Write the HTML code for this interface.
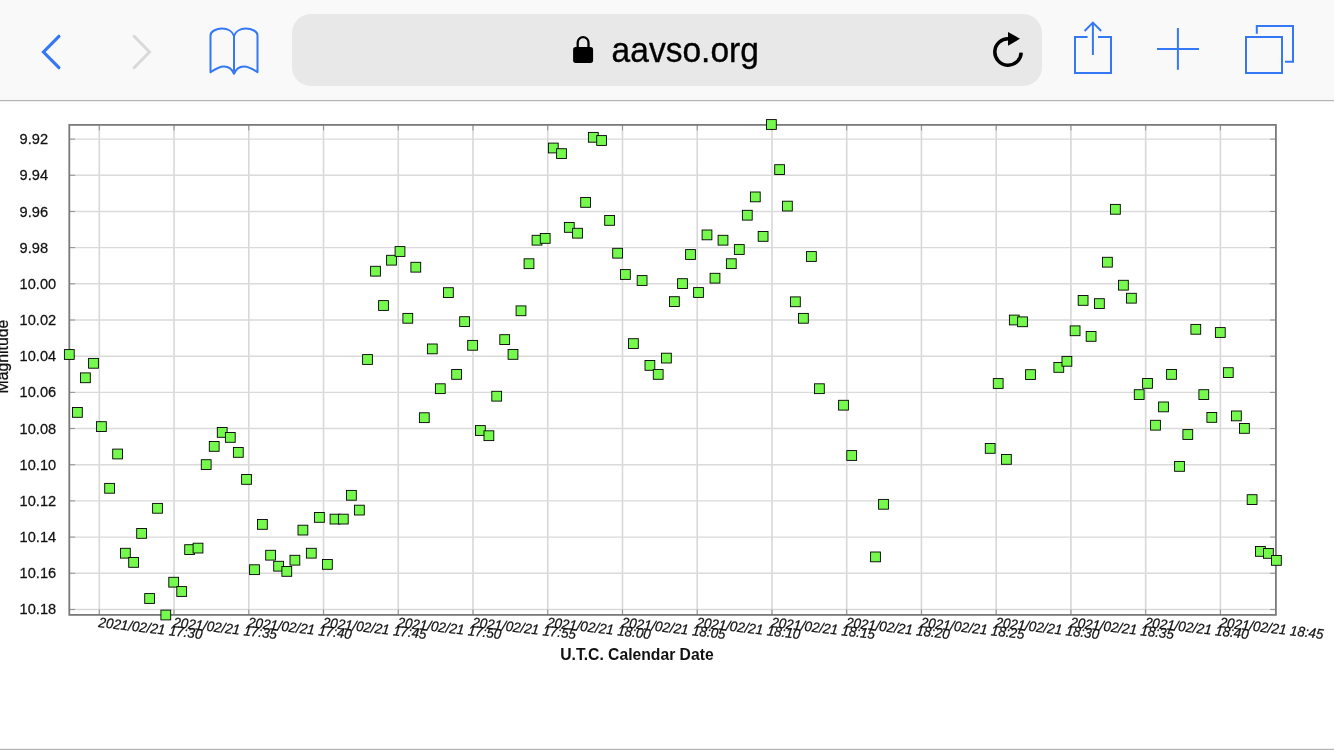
<!DOCTYPE html>
<html lang="en"><head><meta charset="utf-8"><title>aavso.org</title>
<style>
html,body{margin:0;padding:0;background:#fff;}
body{width:1334px;height:750px;overflow:hidden;font-family:"Liberation Sans",sans-serif;}
svg{display:block;}
text{font-family:"Liberation Sans",sans-serif;fill:#111;}
.yt{font-size:15.2px;stroke:#111;stroke-width:0.25px;}
.xt{font-size:14.1px;font-style:italic;stroke:#111;stroke-width:0.25px;}
.ax{font-size:15.7px;font-weight:bold;}
.ay{font-size:15.8px;stroke:#111;stroke-width:0.3px;}
</style></head><body>
<svg width="1334" height="750" viewBox="0 0 1334 750">
<rect x="0" y="0" width="1334" height="100" fill="#f9f9f9"/>
<rect x="0" y="100" width="1334" height="1.2" fill="#b4b4b4"/>
<rect x="0" y="748.8" width="1334" height="1.2" fill="#b4b4b4"/>
<path d="M58.9 36.3 L43.5 52 L58.9 67.7" fill="none" stroke="#3478f6" stroke-width="3.2" stroke-linecap="round" stroke-linejoin="miter"/>
<path d="M134.1 36.3 L149.5 52 L134.1 67.7" fill="none" stroke="#d9d9d9" stroke-width="3" stroke-linecap="round" stroke-linejoin="miter"/>
<g fill="none" stroke="#3478f6" stroke-width="2" stroke-linejoin="round" stroke-linecap="round">
<path d="M234 73.8 V36 C232.6 31.2 227.6 28.6 222 28.6 C216.4 28.6 210.5 31.4 210.5 35.4 V72.2 C215.4 68.8 220 66.4 224 66.4 C229 66.4 232.4 69.6 234 73.8 C235.6 69.6 239 66.4 244 66.4 C248 66.4 252.6 68.8 257.5 72.2 V35.4 C257.5 31.4 251.6 28.6 246 28.6 C240.4 28.6 235.4 31.2 234 36"/>
</g>
<rect x="292" y="14" width="750" height="72" rx="19" ry="19" fill="#e8e8e9"/>
<rect x="573.1" y="47.1" width="20" height="15.8" rx="2.6" fill="#000"/>
<path d="M577.7 48 V42.6 A5.4 5.4 0 0 1 588.5 42.6 V48" fill="none" stroke="#000" stroke-width="2.3"/>
<text x="611.6" y="62.2" style="font-size:34.3px;fill:#000;stroke:#000;stroke-width:0.35px" textLength="147.3" lengthAdjust="spacingAndGlyphs">aavso.org</text>
<path d="M1021.2 52.6 A13.2 13.2 0 1 1 1008.6 38.8" fill="none" stroke="#000" stroke-width="3.5"/>
<path d="M1008 32 L1020 38.7 L1008 45.8 Z" fill="#000"/>
<g fill="none" stroke="#3478f6" stroke-width="2">
<path d="M1087.6 37 H1075 V73 H1111 V37 H1098"/>
<path d="M1092.9 55 V22.9"/>
<path d="M1084.6 31 L1092.9 22.6 L1101.2 31"/>
<path d="M1157 49 H1199"/><path d="M1177.9 28 V69.8"/>
<rect x="1246" y="37" width="36" height="36"/>
<path d="M1256.8 33.8 V26 H1293 V61.8 H1285"/>
</g>
<g stroke="#d8d8d8" stroke-width="1.6" fill="none">
<path d="M99.30 124.9 V614.9"/>
<path d="M174.04 124.9 V614.9"/>
<path d="M248.78 124.9 V614.9"/>
<path d="M323.52 124.9 V614.9"/>
<path d="M398.26 124.9 V614.9"/>
<path d="M473.00 124.9 V614.9"/>
<path d="M547.74 124.9 V614.9"/>
<path d="M622.48 124.9 V614.9"/>
<path d="M697.22 124.9 V614.9"/>
<path d="M771.96 124.9 V614.9"/>
<path d="M846.70 124.9 V614.9"/>
<path d="M921.44 124.9 V614.9"/>
<path d="M996.18 124.9 V614.9"/>
<path d="M1070.92 124.9 V614.9"/>
<path d="M1145.66 124.9 V614.9"/>
<path d="M1220.40 124.9 V614.9"/>
</g>
<g stroke="#dadada" stroke-width="1.4" fill="none">
<path d="M69.3 139.10 H1275.9"/>
<path d="M69.3 175.28 H1275.9"/>
<path d="M69.3 211.46 H1275.9"/>
<path d="M69.3 247.64 H1275.9"/>
<path d="M69.3 283.82 H1275.9"/>
<path d="M69.3 320.00 H1275.9"/>
<path d="M69.3 356.18 H1275.9"/>
<path d="M69.3 392.36 H1275.9"/>
<path d="M69.3 428.54 H1275.9"/>
<path d="M69.3 464.72 H1275.9"/>
<path d="M69.3 500.90 H1275.9"/>
<path d="M69.3 537.08 H1275.9"/>
<path d="M69.3 573.26 H1275.9"/>
<path d="M69.3 609.44 H1275.9"/>
</g>
<g stroke="#8a8a8a" stroke-width="0.9" fill="none">
<path d="M99.30 124.9 v5.5 M99.30 614.9 v-5.5"/>
<path d="M174.04 124.9 v5.5 M174.04 614.9 v-5.5"/>
<path d="M248.78 124.9 v5.5 M248.78 614.9 v-5.5"/>
<path d="M323.52 124.9 v5.5 M323.52 614.9 v-5.5"/>
<path d="M398.26 124.9 v5.5 M398.26 614.9 v-5.5"/>
<path d="M473.00 124.9 v5.5 M473.00 614.9 v-5.5"/>
<path d="M547.74 124.9 v5.5 M547.74 614.9 v-5.5"/>
<path d="M622.48 124.9 v5.5 M622.48 614.9 v-5.5"/>
<path d="M697.22 124.9 v5.5 M697.22 614.9 v-5.5"/>
<path d="M771.96 124.9 v5.5 M771.96 614.9 v-5.5"/>
<path d="M846.70 124.9 v5.5 M846.70 614.9 v-5.5"/>
<path d="M921.44 124.9 v5.5 M921.44 614.9 v-5.5"/>
<path d="M996.18 124.9 v5.5 M996.18 614.9 v-5.5"/>
<path d="M1070.92 124.9 v5.5 M1070.92 614.9 v-5.5"/>
<path d="M1145.66 124.9 v5.5 M1145.66 614.9 v-5.5"/>
<path d="M1220.40 124.9 v5.5 M1220.40 614.9 v-5.5"/>
<path d="M69.3 139.10 h5.8 M1275.9 139.10 h-5.8"/>
<path d="M69.3 175.28 h5.8 M1275.9 175.28 h-5.8"/>
<path d="M69.3 211.46 h5.8 M1275.9 211.46 h-5.8"/>
<path d="M69.3 247.64 h5.8 M1275.9 247.64 h-5.8"/>
<path d="M69.3 283.82 h5.8 M1275.9 283.82 h-5.8"/>
<path d="M69.3 320.00 h5.8 M1275.9 320.00 h-5.8"/>
<path d="M69.3 356.18 h5.8 M1275.9 356.18 h-5.8"/>
<path d="M69.3 392.36 h5.8 M1275.9 392.36 h-5.8"/>
<path d="M69.3 428.54 h5.8 M1275.9 428.54 h-5.8"/>
<path d="M69.3 464.72 h5.8 M1275.9 464.72 h-5.8"/>
<path d="M69.3 500.90 h5.8 M1275.9 500.90 h-5.8"/>
<path d="M69.3 537.08 h5.8 M1275.9 537.08 h-5.8"/>
<path d="M69.3 573.26 h5.8 M1275.9 573.26 h-5.8"/>
<path d="M69.3 609.44 h5.8 M1275.9 609.44 h-5.8"/>
</g>
<rect x="69.3" y="124.9" width="1206.6" height="490.0" fill="none" stroke="#7a7a7a" stroke-width="1.8"/>
<text class="yt" transform="translate(19.6 144.1) scale(0.962 1)">9.92</text>
<text class="yt" transform="translate(19.6 180.3) scale(0.962 1)">9.94</text>
<text class="yt" transform="translate(19.6 216.5) scale(0.962 1)">9.96</text>
<text class="yt" transform="translate(19.6 252.6) scale(0.962 1)">9.98</text>
<text class="yt" transform="translate(19.6 288.8) scale(0.962 1)">10.00</text>
<text class="yt" transform="translate(19.6 325.0) scale(0.962 1)">10.02</text>
<text class="yt" transform="translate(19.6 361.2) scale(0.962 1)">10.04</text>
<text class="yt" transform="translate(19.6 397.4) scale(0.962 1)">10.06</text>
<text class="yt" transform="translate(19.6 433.5) scale(0.962 1)">10.08</text>
<text class="yt" transform="translate(19.6 469.7) scale(0.962 1)">10.10</text>
<text class="yt" transform="translate(19.6 505.9) scale(0.962 1)">10.12</text>
<text class="yt" transform="translate(19.6 542.1) scale(0.962 1)">10.14</text>
<text class="yt" transform="translate(19.6 578.3) scale(0.962 1)">10.16</text>
<text class="yt" transform="translate(19.6 614.4) scale(0.962 1)">10.18</text>
<text class="xt" transform="translate(98.10 627.0) rotate(6.6) scale(0.952 1)">2021/02/21 17:30</text>
<text class="xt" transform="translate(172.84 627.0) rotate(6.6) scale(0.952 1)">2021/02/21 17:35</text>
<text class="xt" transform="translate(247.58 627.0) rotate(6.6) scale(0.952 1)">2021/02/21 17:40</text>
<text class="xt" transform="translate(322.32 627.0) rotate(6.6) scale(0.952 1)">2021/02/21 17:45</text>
<text class="xt" transform="translate(397.06 627.0) rotate(6.6) scale(0.952 1)">2021/02/21 17:50</text>
<text class="xt" transform="translate(471.80 627.0) rotate(6.6) scale(0.952 1)">2021/02/21 17:55</text>
<text class="xt" transform="translate(546.54 627.0) rotate(6.6) scale(0.952 1)">2021/02/21 18:00</text>
<text class="xt" transform="translate(621.28 627.0) rotate(6.6) scale(0.952 1)">2021/02/21 18:05</text>
<text class="xt" transform="translate(696.02 627.0) rotate(6.6) scale(0.952 1)">2021/02/21 18:10</text>
<text class="xt" transform="translate(770.76 627.0) rotate(6.6) scale(0.952 1)">2021/02/21 18:15</text>
<text class="xt" transform="translate(845.50 627.0) rotate(6.6) scale(0.952 1)">2021/02/21 18:20</text>
<text class="xt" transform="translate(920.24 627.0) rotate(6.6) scale(0.952 1)">2021/02/21 18:25</text>
<text class="xt" transform="translate(994.98 627.0) rotate(6.6) scale(0.952 1)">2021/02/21 18:30</text>
<text class="xt" transform="translate(1069.72 627.0) rotate(6.6) scale(0.952 1)">2021/02/21 18:35</text>
<text class="xt" transform="translate(1144.46 627.0) rotate(6.6) scale(0.952 1)">2021/02/21 18:40</text>
<text class="xt" transform="translate(1219.20 627.0) rotate(6.6) scale(0.952 1)">2021/02/21 18:45</text>
<text class="ax" x="560.2" y="659.8">U.T.C. Calendar Date</text>
<text class="ay" transform="translate(7.9 393.4) rotate(-90)">Magnitude</text>
<g fill="#75f94d" stroke="#000" stroke-width="0.9">
<rect x="64.4" y="349.6" width="9.8" height="9.8"/>
<rect x="72.5" y="407.5" width="9.8" height="9.8"/>
<rect x="80.5" y="372.9" width="9.8" height="9.8"/>
<rect x="88.6" y="358.4" width="9.8" height="9.8"/>
<rect x="96.5" y="421.7" width="9.8" height="9.8"/>
<rect x="104.7" y="483.4" width="9.8" height="9.8"/>
<rect x="112.7" y="449.1" width="9.8" height="9.8"/>
<rect x="120.5" y="548.3" width="9.8" height="9.8"/>
<rect x="128.7" y="557.5" width="9.8" height="9.8"/>
<rect x="136.7" y="528.5" width="9.8" height="9.8"/>
<rect x="144.7" y="593.6" width="9.8" height="9.8"/>
<rect x="152.6" y="503.4" width="9.8" height="9.8"/>
<rect x="160.9" y="610.1" width="9.8" height="9.8"/>
<rect x="168.8" y="577.3" width="9.8" height="9.8"/>
<rect x="176.8" y="586.6" width="9.8" height="9.8"/>
<rect x="184.7" y="544.7" width="9.8" height="9.8"/>
<rect x="193.1" y="543.2" width="9.8" height="9.8"/>
<rect x="201.3" y="459.7" width="9.8" height="9.8"/>
<rect x="209.3" y="441.5" width="9.8" height="9.8"/>
<rect x="217.3" y="427.5" width="9.8" height="9.8"/>
<rect x="225.4" y="432.5" width="9.8" height="9.8"/>
<rect x="233.4" y="447.5" width="9.8" height="9.8"/>
<rect x="241.6" y="474.5" width="9.8" height="9.8"/>
<rect x="249.6" y="564.8" width="9.8" height="9.8"/>
<rect x="257.5" y="519.5" width="9.8" height="9.8"/>
<rect x="265.7" y="550.3" width="9.8" height="9.8"/>
<rect x="273.7" y="561.3" width="9.8" height="9.8"/>
<rect x="281.9" y="566.5" width="9.8" height="9.8"/>
<rect x="290.0" y="555.3" width="9.8" height="9.8"/>
<rect x="298.0" y="525.2" width="9.8" height="9.8"/>
<rect x="306.4" y="548.3" width="9.8" height="9.8"/>
<rect x="314.5" y="512.5" width="9.8" height="9.8"/>
<rect x="322.5" y="559.5" width="9.8" height="9.8"/>
<rect x="330.1" y="514.2" width="9.8" height="9.8"/>
<rect x="338.4" y="514.2" width="9.8" height="9.8"/>
<rect x="346.5" y="490.4" width="9.8" height="9.8"/>
<rect x="354.5" y="505.2" width="9.8" height="9.8"/>
<rect x="362.6" y="354.6" width="9.8" height="9.8"/>
<rect x="370.6" y="266.3" width="9.8" height="9.8"/>
<rect x="378.6" y="300.6" width="9.8" height="9.8"/>
<rect x="386.6" y="255.3" width="9.8" height="9.8"/>
<rect x="395.1" y="246.6" width="9.8" height="9.8"/>
<rect x="402.9" y="313.4" width="9.8" height="9.8"/>
<rect x="410.9" y="262.3" width="9.8" height="9.8"/>
<rect x="419.4" y="412.8" width="9.8" height="9.8"/>
<rect x="427.4" y="344.0" width="9.8" height="9.8"/>
<rect x="435.4" y="383.8" width="9.8" height="9.8"/>
<rect x="443.5" y="287.7" width="9.8" height="9.8"/>
<rect x="451.7" y="369.5" width="9.8" height="9.8"/>
<rect x="459.7" y="316.7" width="9.8" height="9.8"/>
<rect x="467.7" y="340.4" width="9.8" height="9.8"/>
<rect x="475.5" y="425.6" width="9.8" height="9.8"/>
<rect x="484.0" y="430.8" width="9.8" height="9.8"/>
<rect x="491.8" y="391.3" width="9.8" height="9.8"/>
<rect x="499.8" y="334.7" width="9.8" height="9.8"/>
<rect x="508.1" y="349.5" width="9.8" height="9.8"/>
<rect x="516.1" y="305.9" width="9.8" height="9.8"/>
<rect x="524.1" y="258.8" width="9.8" height="9.8"/>
<rect x="532.1" y="235.3" width="9.8" height="9.8"/>
<rect x="540.3" y="233.5" width="9.8" height="9.8"/>
<rect x="548.4" y="143.1" width="9.8" height="9.8"/>
<rect x="556.6" y="148.7" width="9.8" height="9.8"/>
<rect x="564.4" y="222.5" width="9.8" height="9.8"/>
<rect x="572.6" y="228.3" width="9.8" height="9.8"/>
<rect x="580.7" y="197.5" width="9.8" height="9.8"/>
<rect x="588.4" y="132.4" width="9.8" height="9.8"/>
<rect x="596.7" y="135.6" width="9.8" height="9.8"/>
<rect x="604.7" y="215.5" width="9.8" height="9.8"/>
<rect x="612.7" y="248.3" width="9.8" height="9.8"/>
<rect x="620.5" y="269.6" width="9.8" height="9.8"/>
<rect x="628.5" y="338.7" width="9.8" height="9.8"/>
<rect x="637.2" y="275.6" width="9.8" height="9.8"/>
<rect x="645.0" y="360.5" width="9.8" height="9.8"/>
<rect x="653.3" y="369.5" width="9.8" height="9.8"/>
<rect x="661.5" y="353.2" width="9.8" height="9.8"/>
<rect x="669.5" y="296.7" width="9.8" height="9.8"/>
<rect x="677.6" y="278.7" width="9.8" height="9.8"/>
<rect x="685.6" y="249.6" width="9.8" height="9.8"/>
<rect x="693.6" y="287.6" width="9.8" height="9.8"/>
<rect x="702.1" y="230.0" width="9.8" height="9.8"/>
<rect x="710.1" y="273.3" width="9.8" height="9.8"/>
<rect x="718.1" y="235.3" width="9.8" height="9.8"/>
<rect x="726.4" y="258.8" width="9.8" height="9.8"/>
<rect x="734.4" y="244.6" width="9.8" height="9.8"/>
<rect x="742.4" y="210.3" width="9.8" height="9.8"/>
<rect x="750.4" y="192.0" width="9.8" height="9.8"/>
<rect x="758.2" y="231.5" width="9.8" height="9.8"/>
<rect x="766.5" y="119.6" width="9.8" height="9.8"/>
<rect x="774.7" y="164.7" width="9.8" height="9.8"/>
<rect x="782.5" y="201.2" width="9.8" height="9.8"/>
<rect x="790.5" y="296.9" width="9.8" height="9.8"/>
<rect x="798.5" y="313.4" width="9.8" height="9.8"/>
<rect x="806.5" y="251.6" width="9.8" height="9.8"/>
<rect x="814.5" y="383.8" width="9.8" height="9.8"/>
<rect x="838.6" y="400.3" width="9.8" height="9.8"/>
<rect x="846.8" y="450.6" width="9.8" height="9.8"/>
<rect x="870.6" y="552.0" width="9.8" height="9.8"/>
<rect x="878.6" y="499.4" width="9.8" height="9.8"/>
<rect x="985.3" y="443.5" width="9.8" height="9.8"/>
<rect x="993.3" y="378.6" width="9.8" height="9.8"/>
<rect x="1001.5" y="454.5" width="9.8" height="9.8"/>
<rect x="1009.4" y="315.1" width="9.8" height="9.8"/>
<rect x="1017.6" y="316.9" width="9.8" height="9.8"/>
<rect x="1025.6" y="369.7" width="9.8" height="9.8"/>
<rect x="1053.9" y="362.5" width="9.8" height="9.8"/>
<rect x="1062.0" y="356.4" width="9.8" height="9.8"/>
<rect x="1070.2" y="325.9" width="9.8" height="9.8"/>
<rect x="1078.2" y="295.5" width="9.8" height="9.8"/>
<rect x="1086.2" y="331.5" width="9.8" height="9.8"/>
<rect x="1094.5" y="298.7" width="9.8" height="9.8"/>
<rect x="1102.5" y="257.3" width="9.8" height="9.8"/>
<rect x="1110.5" y="204.4" width="9.8" height="9.8"/>
<rect x="1118.5" y="280.3" width="9.8" height="9.8"/>
<rect x="1126.5" y="293.3" width="9.8" height="9.8"/>
<rect x="1134.3" y="389.7" width="9.8" height="9.8"/>
<rect x="1142.6" y="378.5" width="9.8" height="9.8"/>
<rect x="1150.6" y="420.3" width="9.8" height="9.8"/>
<rect x="1158.6" y="402.0" width="9.8" height="9.8"/>
<rect x="1166.6" y="369.5" width="9.8" height="9.8"/>
<rect x="1174.6" y="461.5" width="9.8" height="9.8"/>
<rect x="1182.9" y="429.6" width="9.8" height="9.8"/>
<rect x="1190.9" y="324.4" width="9.8" height="9.8"/>
<rect x="1198.9" y="389.7" width="9.8" height="9.8"/>
<rect x="1206.9" y="412.5" width="9.8" height="9.8"/>
<rect x="1215.4" y="327.6" width="9.8" height="9.8"/>
<rect x="1223.4" y="367.7" width="9.8" height="9.8"/>
<rect x="1231.5" y="411.0" width="9.8" height="9.8"/>
<rect x="1239.5" y="423.5" width="9.8" height="9.8"/>
<rect x="1247.2" y="494.7" width="9.8" height="9.8"/>
<rect x="1255.5" y="546.5" width="9.8" height="9.8"/>
<rect x="1263.5" y="548.5" width="9.8" height="9.8"/>
<rect x="1271.5" y="555.5" width="9.8" height="9.8"/>
</g>
</svg>
</body></html>
